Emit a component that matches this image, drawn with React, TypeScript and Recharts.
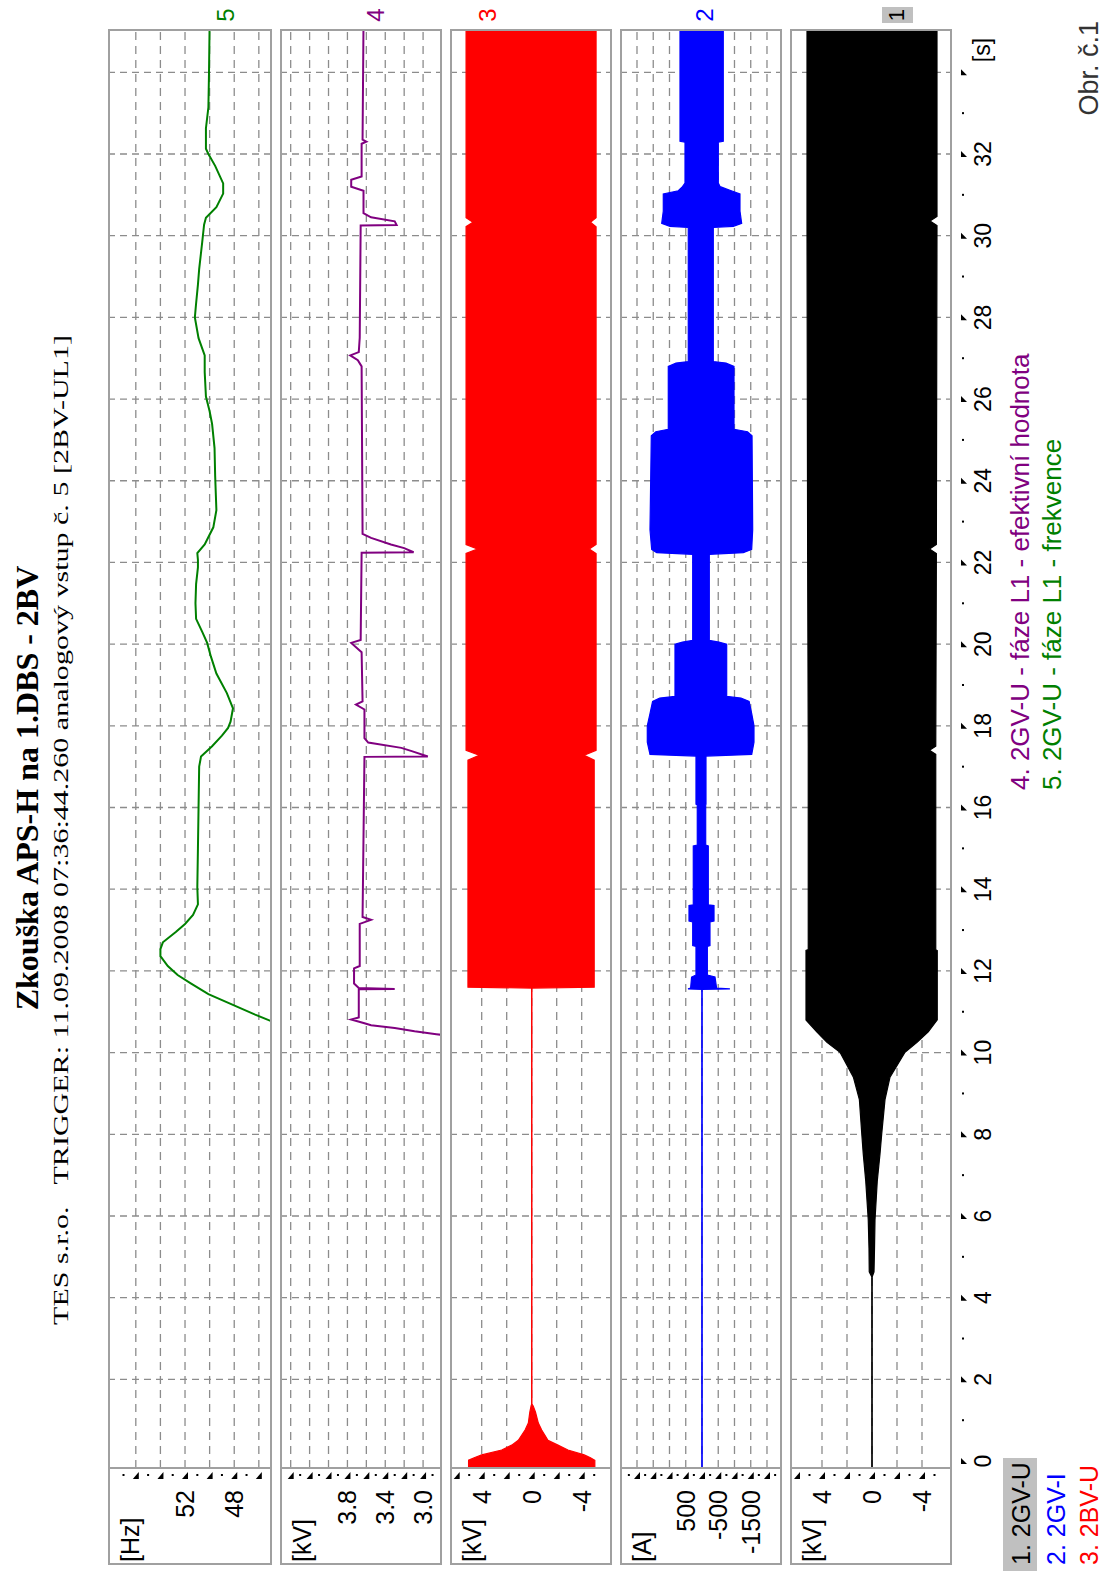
import React from 'react';
import { ComposedChart, Line, Area, XAxis, YAxis, CartesianGrid } from 'recharts';

type Pt = [number, number];
type Env = [number, number, number]; // t, max, min

// 5. 2GV-U - faze L1 - frekvence [Hz]
const freqHz: Pt[] = [
  [10.72, 44.6], [10.93, 46.3], [11.18, 48.2], [11.43, 50.1], [11.69, 51.5], [11.9, 52.6],
  [12.12, 53.4], [12.36, 54.0], [12.53, 54.0], [12.7, 53.8], [12.95, 52.75], [13.15, 52.0],
  [13.37, 51.35], [13.63, 50.95], [14.05, 51.0], [15.0, 50.95], [16.0, 50.9], [17.0, 50.85],
  [17.25, 50.7], [17.5, 49.8], [17.76, 49.0], [17.95, 48.5], [18.1, 48.3], [18.43, 48.1],
  [18.8, 48.6], [19.28, 49.45], [19.7, 49.9], [20.03, 50.2], [20.3, 50.6], [20.62, 51.1],
  [21.0, 51.15], [21.47, 51.1], [21.88, 50.95], [22.06, 50.95], [22.23, 51.0], [22.44, 50.4],
  [22.86, 49.7], [23.28, 49.45], [23.7, 49.5], [24.12, 49.55], [24.8, 49.6], [25.39, 49.8],
  [25.7, 50.0], [26.06, 50.3], [26.66, 50.4], [27.07, 50.4], [27.49, 50.9], [28.0, 51.2],
  [28.34, 51.1], [28.8, 50.95], [29.18, 50.85], [29.85, 50.6], [30.27, 50.45], [30.44, 50.3],
  [30.7, 49.45], [31.03, 48.9], [31.28, 48.9], [31.71, 49.55], [32.0, 50.1], [32.13, 50.3],
  [32.63, 50.3], [33.14, 50.1], [34.0, 50.05], [35.2, 50.0],
];

// 4. 2GV-U - faze L1 - efektivni hodnota [kV]
const rmsKv: Pt[] = [
  [10.38, 2.6], [10.45, 2.86], [10.52, 3.09], [10.6, 3.3], [10.67, 3.55], [10.72, 3.62],
  [10.81, 3.76], [10.86, 3.68], [11.55, 3.68], [11.56, 3.3], [11.58, 3.68], [11.69, 3.73],
  [12.06, 3.73], [12.12, 3.67], [13.15, 3.67], [13.25, 3.55], [13.32, 3.64], [17.24, 3.62],
  [17.25, 2.95], [17.38, 3.12], [17.46, 3.23], [17.59, 3.58], [17.7, 3.62], [18.4, 3.62],
  [18.52, 3.71], [18.6, 3.64], [19.8, 3.65], [20.03, 3.76], [20.1, 3.66], [22.24, 3.65],
  [22.25, 3.1], [22.35, 3.2], [22.44, 3.34], [22.6, 3.55], [22.7, 3.64], [26.8, 3.65],
  [26.95, 3.69], [27.07, 3.77], [27.15, 3.68], [27.5, 3.67], [30.25, 3.66], [30.26, 3.28],
  [30.35, 3.3], [30.45, 3.55], [30.55, 3.63], [31.1, 3.63], [31.2, 3.76], [31.37, 3.76],
  [31.45, 3.65], [32.25, 3.65], [32.3, 3.6], [32.35, 3.64], [35.2, 3.63],
];

// 3. 2BV-U [kV], envelope of the sampled wave
const bvU: Env[] = [
  [-0.2, 5.05, -5.05], [0.02, 5.05, -5.05], [0.08, 4.6, -4.7], [0.15, 4.0, -4.2],
  [0.27, 2.4, -2.9], [0.39, 1.6, -2.1], [0.51, 1.07, -1.3], [0.76, 0.53, -0.8],
  [0.93, 0.27, -0.53], [1.2, 0.15, -0.3], [1.35, 0.05, -0.12], [1.4, 0, 0],
  [11.58, 0, 0], [11.6, 5.1, -5.0], [17.16, 5.1, -5.0], [17.28, 4.2, -4.2],
  [17.4, 5.25, -5.15], [22.22, 5.25, -5.15], [22.33, 4.35, -4.6], [22.44, 5.25, -5.15],
  [30.22, 5.25, -5.15], [30.33, 4.7, -4.7], [30.44, 5.25, -5.15], [35.2, 5.25, -5.15],
];

// 2. 2GV-I [A]
const gvI: Env[] = [
  [-0.2, 0, 0], [11.55, 0, 0], [11.56, 430, -860], [11.58, 350, -450], [11.85, 320, -400],
  [11.9, 185, -165], [12.6, 185, -165], [12.62, 286, -246], [13.2, 286, -246],
  [13.22, 400, -370], [13.6, 400, -370], [13.62, 268, -194], [15.06, 268, -194],
  [15.08, 145, -114], [16.06, 145, -114], [16.08, 185, -123], [17.26, 185, -123],
  [17.3, 1600, -1530], [17.6, 1683, -1600], [18.0, 1683, -1600], [18.3, 1600, -1530],
  [18.6, 1520, -1450], [18.68, 1300, -1200], [18.72, 831, -760], [20.0, 831, -760],
  [20.05, 600, -520], [20.09, 286, -225], [22.2, 286, -225], [22.24, 1394, -1271],
  [22.32, 1548, -1529], [22.8, 1600, -1560], [25.1, 1560, -1540], [25.2, 1420, -1400],
  [25.26, 1037, -985], [26.8, 1037, -985], [26.88, 800, -740], [26.92, 422, -348],
  [30.2, 422, -348], [30.23, 985, -963], [30.3, 1240, -1221], [30.6, 1191, -1169],
  [31.02, 1191, -1169], [31.1, 729, -900], [31.2, 600, -560], [31.29, 523, -502],
  [32.29, 523, -502], [32.31, 677, -655], [35.2, 677, -655],
];

// 1. 2GV-U [kV]
const gvU: Env[] = [
  [-0.2, 0, 0], [4.5, 0, 0], [4.63, 0.22, -0.16], [5.2, 0.24, -0.2], [5.91, 0.3, -0.24],
  [6.85, 0.5, -0.42], [7.52, 0.7, -0.64], [8.02, 0.82, -0.78], [8.85, 1.01, -1.04],
  [9.4, 1.49, -1.44], [10.01, 2.56, -2.64], [10.25, 3.6, -3.6], [10.51, 4.42, -4.5],
  [10.8, 5.28, -5.22], [12.5, 5.28, -5.22], [12.52, 5.1, -5.1], [17.3, 5.1, -5.1],
  [17.4, 5.1, -4.6], [17.5, 5.1, -5.1], [22.22, 5.15, -5.15], [22.33, 5.15, -4.6],
  [22.44, 5.15, -5.15], [30.25, 5.2, -5.2], [30.36, 5.2, -4.64], [30.47, 5.2, -5.2],
  [35.2, 5.2, -5.2],
];

const timeMajor = [0, 2, 4, 6, 8, 10, 12, 14, 16, 18, 20, 22, 24, 26, 28, 30, 32, 34];
const timeMinor = [1, 3, 5, 7, 9, 11, 13, 15, 17, 19, 21, 23, 25, 27, 29, 31, 33];
const timeLabels = [0, 2, 4, 6, 8, 10, 12, 14, 16, 18, 20, 22, 24, 26, 28, 30, 32];
const timeGrid = [2, 4, 6, 8, 10, 12, 14, 16, 18, 20, 22, 24, 26, 28, 30, 32, 34];
const T_DOMAIN: [number, number] = [-0.17, 35.06];

const SANS = '"Liberation Sans", Arial, sans-serif';
const SERIF = '"Liberation Serif", "Times New Roman", serif';
const GRID = '#8c8c8c';
const EDGE = '#a0a0a0';

interface Cfg {
  top: number;
  height: number;
  domain: [number, number];
  major: number[];
  minor: number[];
  labels: number[];
  grid: number[];
  unit: string;
  digits: number;
}

const hzCfg: Cfg = {
  top: 108, height: 164, domain: [44.93, 58.26],
  major: [46, 48, 50, 52, 54, 56], minor: [47, 49, 51, 53, 55, 57],
  labels: [52, 48], grid: [46, 48, 50, 52, 54, 56], unit: '[Hz]', digits: 0,
};
const rmsCfg: Cfg = {
  top: 280, height: 162, domain: [2.8, 4.513],
  major: [3.0, 3.2, 3.4, 3.6, 3.8, 4.0, 4.2, 4.4], minor: [2.9, 3.1, 3.3, 3.5, 3.7, 3.9, 4.1, 4.3],
  labels: [3.8, 3.4, 3.0], grid: [3.0, 3.2, 3.4, 3.6, 3.8, 4.0, 4.2, 4.4], unit: '[kV]', digits: 1,
};
const bvCfg: Cfg = {
  top: 450, height: 162, domain: [-6.424, 6.536],
  major: [-4, -2, 0, 2, 4, 6], minor: [-5, -3, -1, 1, 3, 5],
  labels: [4, 0, -4], grid: [-4, -2, 0, 2, 4], unit: '[kV]', digits: 0,
};
const giCfg: Cfg = {
  top: 620, height: 162, domain: [-2462, 2523],
  major: [-2000, -1500, -1000, -500, 0, 500, 1000, 1500, 2000],
  minor: [-2250, -1750, -1250, -750, -250, 250, 750, 1250, 1750, 2250],
  labels: [500, -500, -1500], grid: [-2000, -1500, -1000, -500, 0, 500, 1000, 1500, 2000],
  unit: '[A]', digits: 0,
};
const guCfg: Cfg = {
  top: 790, height: 162, domain: [-6.4, 6.56],
  major: [-4, -2, 0, 2, 4, 6], minor: [-5, -3, -1, 1, 3, 5],
  labels: [4, 0, -4], grid: [-4, -2, 0, 2, 4], unit: '[kV]', digits: 0,
};

const ValueTick = (props: any) => {
  const { x, y, payload, cfg } = props;
  const v = payload.value;
  const major = cfg.major.includes(v);
  return (
    <g>
      {major ? (
        <path d={`M${x - 11},${y - 3} L${x - 11},${y + 3} L${x - 4},${y + 3} Z`} fill="#000" />
      ) : (
        <rect x={x - 8} y={y - 1} width={2} height={2} fill="#000" />
      )}
      {cfg.labels.includes(v) && (
        <text x={x - 22} y={y} textAnchor="end" dominantBaseline="central" fontFamily={SANS} fontSize={25} fill="#000">
          {v.toFixed(cfg.digits)}
        </text>
      )}
    </g>
  );
};

const TimeTick = (props: any) => {
  const { x, y, payload } = props;
  const t = payload.value;
  return (
    <g>
      {timeMajor.includes(t) ? (
        <path d={`M${x - 3},${y + 9} L${x + 3},${y + 9} L${x - 3},${y + 15} Z`} fill="#000" />
      ) : (
        <rect x={x - 1} y={y + 10} width={2} height={2} fill="#000" />
      )}
      {timeLabels.includes(t) && (
        <text x={x} y={y + 31} textAnchor="middle" dominantBaseline="central" fontFamily={SANS} fontSize={23} fill="#000">
          {t}
        </text>
      )}
    </g>
  );
};

const Strip = ({ cfg, data, time = false, children }: { cfg: Cfg; data: any[]; time?: boolean; children: React.ReactNode }) => {
  const h = cfg.height + (time ? 50 : 0);
  return (
    <div style={{ position: 'absolute', left: 6, top: cfg.top }}>
      <ComposedChart width={1536} height={h} data={data} margin={{ top: 0, right: 0, bottom: 0, left: 0 }}>
        <CartesianGrid horizontal={false} verticalValues={timeGrid} stroke={GRID} strokeWidth={1.3} strokeDasharray="7 5" />
        <CartesianGrid vertical={false} horizontalValues={cfg.grid} stroke={GRID} strokeWidth={1.3} strokeDasharray="8 6" />
        <XAxis
          type="number" dataKey="t" domain={T_DOMAIN} allowDataOverflow hide={!time} height={time ? 50 : 0}
          ticks={[...timeMajor, ...timeMinor].sort((a, b) => a - b)} interval={0}
          axisLine={false} tickLine={false} tickSize={0} tickMargin={0} tick={(p: any) => <TimeTick {...p} />}
        />
        <YAxis
          type="number" domain={cfg.domain} allowDataOverflow width={97}
          ticks={[...cfg.major, ...cfg.minor]} interval={0}
          axisLine={false} tickLine={false} tickSize={0} tickMargin={0}
          tick={(p: any) => <ValueTick {...p} cfg={cfg} />}
        />
        {children}
      </ComposedChart>
    </div>
  );
};

const Txt = ({ x, y, children, anchor = 'start', color = '#000', size = 25, family = SANS, weight = 400, sx = 1 }: any) => {
  const tx = anchor === 'start' ? '0' : anchor === 'middle' ? '-50%' : '-100%';
  const origin = anchor === 'start' ? 'left center' : anchor === 'middle' ? 'center center' : 'right center';
  return (
    <div
      style={{
        position: 'absolute', left: x, top: y, width: 'max-content', whiteSpace: 'pre', lineHeight: 1,
        transform: `translate(${tx},-50%) scaleX(${sx})`, transformOrigin: origin,
        fontFamily: family, fontSize: size, fontWeight: weight, color,
      }}
    >
      {children}
    </div>
  );
};

const Frame = ({ cfg }: { cfg: Cfg }) => (
  <>
    <div style={{ position: 'absolute', left: 6, top: cfg.top, width: 1536, height: cfg.height, border: `2px solid ${EDGE}`, boxSizing: 'border-box' }} />
    <div style={{ position: 'absolute', left: 102, top: cfg.top, width: 2, height: cfg.height, background: EDGE }} />
    <Txt x={9} y={cfg.top + 22}>{cfg.unit}</Txt>
  </>
);

const toLine = (pts: Pt[]) => pts.map(([t, v]) => ({ t, v }));
const toBand = (pts: Env[]) => pts.map(([t, hi, lo]) => ({ t, r: [lo, hi] }));

const band = (color: string) => ({
  dataKey: 'r', type: 'linear' as const, stroke: color, strokeWidth: 1.2, fill: color, fillOpacity: 1,
  dot: false, activeDot: false, isAnimationActive: false,
});

export default function App() {
  return (
    <div style={{ position: 'absolute', left: 0, top: 0, width: 1106, height: 1571, overflow: 'hidden', background: '#fff' }}>
      <div style={{ position: 'absolute', left: 0, top: 1571, width: 1571, height: 1106, transform: 'rotate(-90deg)', transformOrigin: '0 0' }}>
        <Txt x={783} y={27} anchor="middle" family={SERIF} size={32} weight={700}>Zkouška APS-H na 1.DBS - 2BV</Txt>
        <Txt x={741} y={61} anchor="middle" family={SERIF} size={21} sx={1.43}>
          {'TES s.r.o.   TRIGGER: 11.09.2008 07:36:44.260 analogový vstup č. 5 [2BV-UL1]'}
        </Txt>

        <Strip cfg={hzCfg} data={toLine(freqHz)}>
          <Line dataKey="v" type="linear" stroke="#008000" strokeWidth={2} dot={false} activeDot={false} isAnimationActive={false} />
        </Strip>
        <Strip cfg={rmsCfg} data={toLine(rmsKv)}>
          <Line dataKey="v" type="linear" stroke="#800080" strokeWidth={2} dot={false} activeDot={false} isAnimationActive={false} />
        </Strip>
        <Strip cfg={bvCfg} data={toBand(bvU)}>
          <Area {...band('#ff0000')} />
        </Strip>
        <Strip cfg={giCfg} data={toBand(gvI)}>
          <Area {...band('#0000ff')} />
        </Strip>
        <Strip cfg={guCfg} data={toBand(gvU)} time>
          <Area {...band('#000000')} />
        </Strip>

        <Frame cfg={hzCfg} />
        <Frame cfg={rmsCfg} />
        <Frame cfg={bvCfg} />
        <Frame cfg={giCfg} />
        <Frame cfg={guCfg} />

        <Txt x={1521} y={982} anchor="middle" size={23}>[s]</Txt>

        <Txt x={1556} y={226} anchor="middle" size={24} color="#008000">5</Txt>
        <Txt x={1556} y={376} anchor="middle" size={24} color="#800080">4</Txt>
        <Txt x={1556} y={488} anchor="middle" size={24} color="#ff0000">3</Txt>
        <Txt x={1556} y={705} anchor="middle" size={24} color="#0000ff">2</Txt>
        <div style={{ position: 'absolute', left: 1548, top: 882, width: 16, height: 31, background: '#c0c0c0' }} />
        <Txt x={1556} y={897} anchor="middle" size={22}>1</Txt>

        <Txt x={781} y={1020} size={26} color="#800080">4. 2GV-U - fáze L1 - efektivní hodnota</Txt>
        <Txt x={781} y={1052} size={26} color="#008000">5. 2GV-U - fáze L1 - frekvence</Txt>

        <div style={{ position: 'absolute', left: 0, top: 1003, width: 113, height: 34, background: '#c0c0c0' }} />
        <Txt x={6} y={1021} size={25}>1. 2GV-U</Txt>
        <Txt x={6} y={1056} size={25} color="#0000ff">2. 2GV-I</Txt>
        <Txt x={6} y={1089} size={25} color="#ff0000">3. 2BV-U</Txt>

        <Txt x={1550} y={1089} anchor="end" size={27} color="#333">Obr. č.1</Txt>
      </div>
    </div>
  );
}
